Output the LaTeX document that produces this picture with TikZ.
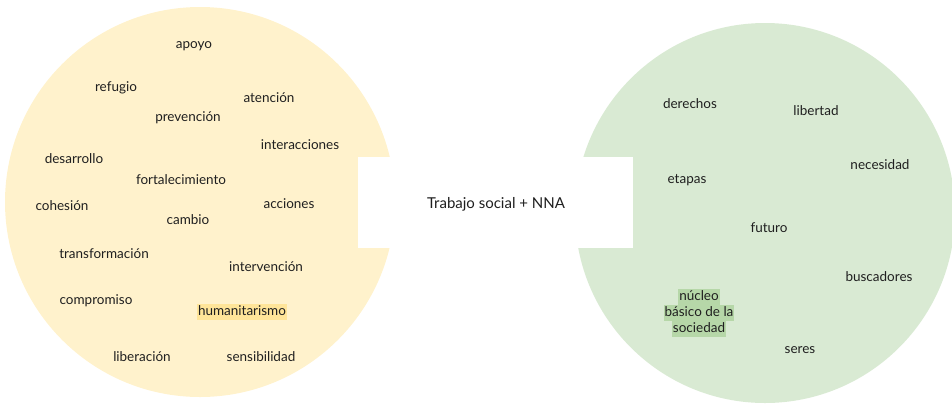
\documentclass[tikz,border=0pt]{standalone}
\usepackage{fontspec}
\setmainfont{Lato}
\definecolor{ylw}{HTML}{FFF2CC}
\definecolor{ylwhl}{HTML}{FFE599}
\definecolor{grn}{HTML}{D9EAD3}
\definecolor{grnhl}{HTML}{B6D7A8}
\definecolor{txt}{HTML}{1F1F1F}
\begin{document}
\begin{tikzpicture}[x=1pt,y=-1pt,
  word/.style={text=txt,font=\fontsize{13.5}{16}\selectfont,inner sep=0pt},
  hl/.style={word,inner xsep=1pt,inner ysep=1.5pt,text height=10pt,text depth=3pt}]
\useasboundingbox (0,0) rectangle (952,408);
\clip (0,0) rectangle (952,408);
% circles
\fill[ylw] (200,202) circle[radius=195pt];
\fill[grn] (765,213) circle[radius=190pt];
\fill[white] (358,157) rectangle (633,248);
\begin{scope}[yshift=-1.5pt]
\node[word,font=\fontsize{15}{18}\selectfont] (center) at (496,203) {Trabajo social + NNA};
% left words
\node[word] (apoyo) at (194,45) {apoyo};
\node[word] (refugio) at (116,86) {refugio};
\node[word] (atencion) at (269,96) {atención};
\node[word] (prevencion) at (188,116) {prevención};
\node[word] (interacciones) at (300,143) {interacciones};
\node[word] (desarrollo) at (74,157) {desarrollo};
\node[word] (fortalecimiento) at (181,178) {fortalecimiento};
\node[word] (cohesion) at (62,204) {cohesión};
\node[word] (acciones) at (289,202) {acciones};
\node[word] (cambio) at (188,218) {cambio};
\node[word] (transformacion) at (104,252) {transformación};
\node[word] (intervencion) at (266,265) {intervención};
\node[word] (compromiso) at (96,299) {compromiso};
\node[hl,fill=ylwhl] (humanitarismo) at (242,310.5) {humanitarismo};
\node[word] (liberacion) at (142,355) {liberación};
\node[word] (sensibilidad) at (261,355) {sensibilidad};
% right words
\node[word] (derechos) at (690,102) {derechos};
\node[word] (libertad) at (816,109) {libertad};
\node[word] (necesidad) at (880,163) {necesidad};
\node[word] (etapas) at (687,179) {etapas};
\node[word] (futuro) at (769,226) {futuro};
\node[word] (buscadores) at (879,275) {buscadores};
\node[hl,fill=grnhl] (nucleoA) at (699,295) {núcleo};
\node[hl,fill=grnhl] (nucleoB) at (699,311) {básico de la};
\node[hl,fill=grnhl] (nucleoC) at (699,327) {sociedad};
\node[word] (seres) at (800,349) {seres};
\end{scope}
\end{tikzpicture}
\end{document}
